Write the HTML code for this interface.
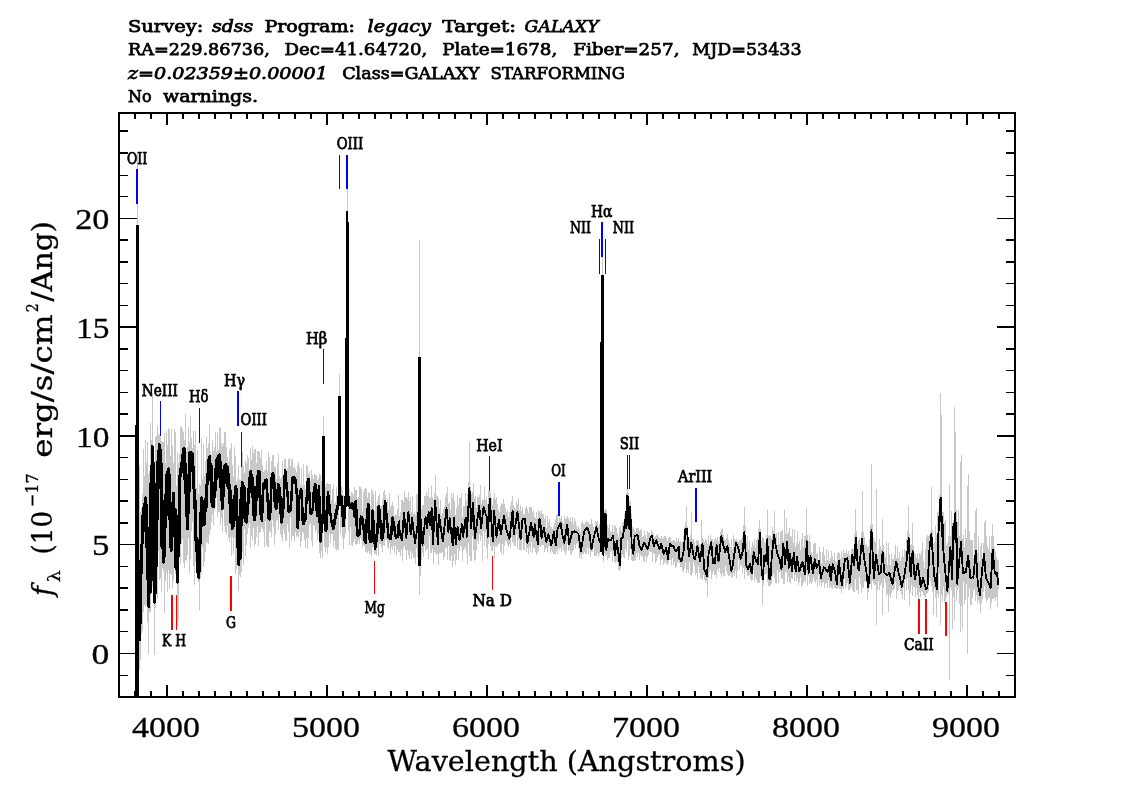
<!DOCTYPE html>
<html lang="en"><head><meta charset="utf-8"><title>SDSS spectrum plate 1678 fiber 257 MJD 53433</title>
<style>
html,body{margin:0;padding:0;background:#fff;}
body{width:1134px;height:810px;overflow:hidden;}
svg{display:block;}
text{font-family:"DejaVu Serif","Liberation Serif",serif;fill:#000;}
.t{font-size:17.2px;stroke:#000;stroke-width:0.75px;}
.ti{font-size:17.2px;font-style:italic;stroke:#000;stroke-width:0.75px;}
.lb{font-size:15.8px;stroke:#000;stroke-width:0.75px;}
.ax{font-size:29px;font-family:"Liberation Serif","DejaVu Serif",serif;stroke:#000;stroke-width:0.3px;}
.al{font-size:27px;stroke:#000;stroke-width:0.3px;}
</style></head><body>
<svg width="1134" height="810" viewBox="0 0 1134 810">
<rect x="0" y="0" width="1134" height="810" fill="#fff"/>
<g shape-rendering="crispEdges">
<path d="M138.5 506.6V645.0M139.5 465.7V670.0M140.5 512.2V660.0M141.5 507.7V633.6M142.5 494.2V631.4M143.5 448.6V612.2M144.5 475.8V604.5M145.5 440.0V606.8M146.5 463.2V604.8M147.5 442.0V622.3M148.5 474.0V654.0M149.5 470.8V612.4M150.5 423.0V612.3M151.5 439.8V593.3M152.5 393.0V586.5M153.5 448.4V589.7M154.5 468.6V655.0M155.5 436.6V608.1M156.5 436.1V575.8M157.5 426.0V598.5M158.5 433.8V551.0M159.5 434.6V580.4M160.5 436.8V577.8M161.5 441.4V591.5M162.5 441.7V568.2M163.5 442.2V571.4M164.5 433.4V613.0M165.5 463.0V581.0M166.5 430.6V573.4M167.5 444.6V591.9M168.5 428.0V570.2M169.5 429.8V588.9M170.5 456.0V574.2M171.5 429.4V574.5M172.5 446.0V588.2M173.5 462.8V581.1M174.5 428.6V566.2M175.5 432.3V573.5M176.5 485.6V581.1M177.5 451.8V626.0M178.5 462.7V620.0M179.5 453.5V556.0M180.5 426.0V563.5M181.5 427.0V543.5M182.5 428.7V538.8M183.5 431.7V562.5M184.5 439.8V567.9M185.5 414.0V559.6M186.5 450.5V560.9M187.5 446.5V554.9M188.5 427.4V537.8M189.5 442.1V573.0M190.5 416.0V559.3M191.5 437.8V531.4M192.5 448.4V522.4M193.5 431.0V565.7M194.5 445.1V585.2M195.5 430.6V562.4M196.5 487.5V573.0M197.5 450.3V578.4M198.5 494.4V581.8M199.5 484.2V610.0M200.5 485.1V578.3M201.5 437.5V573.6M202.5 478.5V547.0M203.5 443.5V567.2M204.5 476.3V562.4M205.5 461.3V552.4M206.5 437.1V542.1M207.5 447.9V543.3M208.5 442.7V543.7M209.5 424.0V534.7M210.5 450.6V530.4M211.5 454.8V522.3M212.5 439.6V513.9M213.5 451.2V525.9M214.5 447.4V509.6M215.5 432.4V507.2M216.5 451.3V496.7M217.5 432.6V516.6M218.5 449.5V512.3M219.5 428.0V512.3M220.5 427.0V525.4M221.5 442.6V518.0M222.5 446.2V532.0M223.5 443.4V509.5M224.5 431.9V526.4M225.5 432.0V532.0M226.5 447.1V534.1M227.5 457.1V526.0M228.5 461.7V537.9M229.5 450.1V541.8M230.5 447.9V537.1M231.5 443.1V556.0M232.5 465.4V537.0M233.5 476.4V554.3M234.5 446.7V537.9M235.5 455.6V574.0M236.5 481.5V568.5M237.5 478.8V558.2M238.5 466.4V591.0M239.5 479.7V575.2M240.5 479.6V576.5M241.5 461.9V572.0M242.5 452.4V552.3M243.5 465.9V564.7M244.5 472.9V528.9M245.5 459.6V555.8M246.5 462.9V544.5M247.5 454.8V533.9M248.5 458.0V528.1M249.5 469.2V522.7M250.5 448.3V548.0M251.5 460.3V536.4M252.5 446.0V540.1M253.5 453.3V527.7M254.5 448.7V546.1M255.5 448.9V544.1M256.5 463.4V536.5M257.5 451.1V526.3M258.5 451.4V546.3M259.5 451.5V533.0M260.5 458.2V531.8M261.5 450.2V526.7M262.5 465.0V529.2M263.5 472.4V531.9M264.5 471.1V546.5M265.5 469.3V521.3M266.5 460.5V544.6M267.5 471.0V546.6M268.5 451.8V546.6M269.5 456.9V531.2M270.5 472.3V531.9M271.5 461.0V536.5M272.5 454.5V519.5M273.5 454.6V527.4M274.5 467.4V544.5M275.5 467.0V534.6M276.5 479.1V521.1M277.5 462.8V519.9M278.5 454.0V530.0M279.5 475.8V517.1M280.5 479.1V533.8M281.5 476.9V537.0M282.5 460.5V540.9M283.5 482.5V529.0M284.5 458.6V533.6M285.5 458.5V541.4M286.5 469.8V541.3M287.5 468.0V524.0M288.5 459.3V531.9M289.5 458.2V547.8M290.5 465.9V517.2M291.5 459.0V540.8M292.5 459.4V535.9M293.5 467.5V536.4M294.5 466.4V541.5M295.5 469.3V532.2M296.5 471.9V536.5M297.5 465.0V535.7M298.5 461.7V537.1M299.5 466.8V532.2M300.5 485.0V547.0M301.5 468.4V540.9M302.5 486.1V531.8M303.5 463.6V532.6M304.5 484.5V539.7M305.5 488.8V547.8M306.5 465.4V537.6M307.5 466.1V549.0M308.5 474.2V537.6M309.5 471.0V525.0M310.5 480.6V523.4M311.5 469.9V541.3M312.5 475.0V546.9M313.5 478.8V525.0M314.5 474.3V525.9M315.5 474.8V532.4M316.5 475.2V530.3M317.5 480.2V540.2M318.5 478.4V534.4M319.5 474.4V553.4M320.5 475.0V557.5M321.5 480.6V550.5M322.5 476.6V557.9M324.5 489.6V547.0M325.5 486.6V551.6M326.5 483.9V547.5M327.5 482.7V553.6M328.5 484.0V546.7M329.5 483.5V533.9M330.5 484.3V542.7M331.5 500.1V533.9M332.5 488.5V534.3M333.5 485.4V547.4M334.5 503.6V540.5M335.5 501.8V549.4M336.5 487.0V550.7M337.5 496.6V548.7M338.5 489.6V550.2M340.5 489.1V534.3M341.5 486.1V527.1M342.5 490.1V537.5M343.5 495.2V548.8M344.5 495.8V537.9M345.5 493.2V534.2M348.5 487.2V531.0M349.5 488.8V545.3M350.5 495.8V526.7M351.5 492.2V544.9M352.5 492.9V546.4M353.5 495.4V541.7M354.5 487.3V539.4M355.5 490.0V544.4M356.5 490.0V544.5M357.5 499.0V544.0M358.5 496.8V539.8M359.5 486.4V543.6M360.5 486.6V538.3M361.5 488.6V540.4M362.5 510.7V548.3M363.5 492.1V544.8M364.5 488.8V545.6M365.5 487.5V552.1M366.5 489.3V551.5M367.5 497.6V553.1M368.5 492.4V551.4M369.5 492.5V553.8M370.5 506.2V553.4M371.5 488.6V556.4M372.5 490.5V547.9M373.5 494.2V547.0M374.5 510.9V554.0M375.5 491.1V554.1M376.5 505.8V555.0M377.5 501.0V547.2M378.5 495.6V556.0M379.5 494.4V544.3M380.5 505.8V543.8M381.5 506.3V546.8M382.5 499.5V551.5M383.5 492.0V545.3M384.5 489.5V546.2M385.5 494.5V539.9M386.5 502.0V539.8M387.5 499.3V546.7M388.5 509.8V548.9M389.5 493.1V543.2M390.5 506.7V554.2M391.5 504.5V546.9M392.5 501.9V550.4M393.5 505.5V546.3M394.5 515.7V552.8M395.5 513.6V546.2M396.5 514.6V555.3M397.5 509.3V549.2M398.5 494.8V551.8M399.5 515.6V552.2M400.5 511.8V556.1M401.5 499.5V550.1M402.5 499.5V561.0M403.5 501.6V548.3M404.5 491.0V545.8M405.5 497.2V550.2M406.5 497.3V560.0M407.5 499.3V549.8M408.5 492.0V554.9M409.5 500.8V558.8M410.5 497.0V550.6M411.5 511.8V559.1M412.5 496.0V553.4M413.5 513.7V558.2M414.5 511.5V558.3M415.5 514.5V564.0M416.5 494.0V548.4M417.5 493.5V557.3M420.5 506.6V575.7M421.5 509.0V560.0M422.5 505.2V553.1M423.5 504.7V557.1M424.5 496.2V545.5M425.5 496.1V550.8M426.5 492.2V550.0M427.5 495.6V549.3M428.5 488.0V558.7M429.5 497.5V535.9M430.5 496.5V553.2M431.5 486.0V553.1M432.5 497.1V548.5M433.5 498.7V564.0M434.5 492.8V551.6M435.5 475.0V552.7M436.5 494.6V555.2M437.5 495.9V553.8M438.5 498.4V565.0M439.5 509.3V552.9M440.5 499.6V553.3M441.5 515.1V552.9M442.5 513.3V552.3M443.5 509.0V559.5M444.5 505.8V556.8M445.5 496.8V548.4M446.5 493.0V548.2M447.5 487.0V559.6M448.5 504.0V545.8M449.5 501.6V559.7M450.5 509.9V561.0M451.5 493.1V555.6M452.5 497.7V567.0M453.5 493.2V561.0M454.5 501.1V554.4M455.5 514.8V565.0M456.5 508.1V560.1M457.5 494.9V547.8M458.5 504.8V559.9M459.5 498.4V551.3M460.5 498.2V546.1M461.5 493.4V547.3M462.5 517.2V561.0M463.5 505.9V549.7M464.5 506.0V548.8M465.5 493.4V547.1M466.5 500.6V553.2M467.5 493.5V564.0M468.5 482.3V542.7M469.5 442.0V556.0M470.5 486.6V561.0M471.5 493.6V561.0M472.5 492.3V535.7M473.5 483.0V550.3M474.5 498.0V561.0M475.5 496.4V559.5M476.5 508.4V550.4M477.5 496.7V541.3M478.5 497.2V543.7M479.5 494.7V534.1M480.5 485.0V541.0M481.5 503.5V535.8M482.5 499.1V561.0M483.5 500.0V531.1M484.5 487.0V545.2M485.5 500.4V532.0M486.5 497.0V548.3M487.5 504.4V559.3M488.5 491.3V544.2M489.5 492.6V537.7M490.5 491.7V545.5M491.5 498.1V551.2M492.5 504.7V551.3M493.5 497.7V545.6M494.5 493.0V557.8M495.5 499.0V546.0M496.5 497.4V546.2M497.5 504.2V547.0M498.5 510.2V543.6M499.5 511.6V543.2M500.5 505.5V552.2M501.5 503.3V554.2M502.5 503.7V543.5M503.5 498.9V554.5M504.5 504.3V545.9M505.5 507.5V541.3M506.5 512.0V541.4M507.5 509.8V545.1M508.5 516.8V547.1M509.5 511.6V544.4M510.5 506.4V546.7M511.5 500.8V537.0M512.5 496.0V542.0M513.5 505.3V543.4M514.5 507.0V546.1M515.5 509.1V546.2M516.5 500.8V534.1M517.5 503.7V548.7M518.5 498.0V539.7M519.5 510.0V550.0M520.5 505.1V550.2M521.5 510.8V550.1M522.5 506.8V538.2M523.5 513.6V549.9M524.5 514.5V550.1M525.5 508.2V540.8M526.5 505.8V551.5M527.5 508.7V548.2M528.5 512.5V554.4M529.5 507.4V546.8M530.5 506.7V552.1M531.5 506.9V542.4M532.5 512.0V552.5M533.5 510.3V547.6M534.5 517.0V547.7M535.5 518.4V552.3M536.5 512.2V555.1M537.5 519.4V553.4M538.5 511.0V551.4M539.5 510.7V545.6M540.5 512.5V547.1M541.5 510.1V545.4M542.5 513.6V545.3M543.5 514.2V545.2M544.5 518.7V551.8M545.5 515.4V548.8M546.5 527.7V548.1M547.5 516.4V552.2M548.5 523.4V547.3M549.5 519.2V546.4M550.5 526.4V552.8M551.5 526.7V549.8M552.5 528.6V551.6M553.5 526.5V553.8M554.5 523.4V554.4M555.5 519.0V554.4M556.5 515.4V551.1M557.5 514.0V553.6M558.5 522.1V548.4M559.5 514.5V550.1M560.5 518.8V548.2M561.5 515.9V551.8M562.5 520.5V546.3M563.5 523.2V550.1M564.5 515.6V552.2M565.5 518.7V554.7M566.5 518.0V551.3M567.5 515.8V543.9M568.5 518.2V551.2M569.5 521.0V549.5M570.5 516.5V554.0M571.5 521.6V554.9M572.5 517.0V550.5M573.5 524.0V550.3M574.5 518.2V544.6M575.5 521.3V548.7M576.5 524.6V544.1M577.5 528.9V543.0M578.5 526.0V549.4M579.5 529.4V557.5M580.5 532.0V554.8M581.5 522.5V558.8M582.5 520.8V554.4M583.5 523.9V553.7M584.5 524.1V552.0M585.5 522.0V553.5M586.5 520.5V553.5M587.5 521.7V548.4M588.5 521.5V553.7M589.5 523.9V547.3M590.5 523.5V556.5M591.5 518.8V552.1M592.5 523.5V552.3M593.5 526.9V547.1M594.5 529.5V556.1M595.5 521.2V556.2M596.5 521.7V556.4M597.5 521.0V553.2M598.5 526.2V556.9M599.5 524.3V554.1M600.5 520.7V549.4M601.5 522.1V552.1M603.5 507.6V561.7M604.5 510.3V552.5M605.5 509.4V556.4M606.5 510.3V555.0M607.5 525.4V560.3M608.5 527.5V558.0M609.5 524.1V558.4M610.5 530.9V552.2M611.5 532.0V551.1M612.5 524.7V561.7M613.5 532.2V553.6M614.5 525.1V562.1M615.5 526.0V562.5M616.5 527.7V560.8M617.5 532.5V562.1M618.5 537.3V570.2M619.5 527.8V570.7M620.5 525.8V569.0M621.5 530.8V557.5M622.5 522.7V554.7M623.5 522.0V556.6M624.5 513.6V558.0M625.5 514.2V549.1M626.5 492.9V551.5M627.5 489.7V539.6M628.5 493.1V560.1M629.5 501.8V555.5M630.5 500.0V549.4M631.5 512.9V560.3M632.5 527.3V560.6M633.5 527.5V560.6M634.5 530.2V561.3M635.5 532.1V560.4M636.5 527.8V553.1M637.5 527.9V557.3M638.5 528.4V552.6M639.5 531.3V560.4M640.5 530.4V554.5M641.5 528.9V556.6M642.5 536.7V555.7M643.5 536.1V561.2M644.5 530.5V562.0M645.5 534.6V555.8M646.5 537.9V561.6M647.5 531.2V556.8M648.5 532.5V554.5M649.5 531.6V550.6M650.5 534.5V552.1M651.5 530.4V552.0M652.5 532.0V562.4M653.5 533.8V552.5M654.5 537.2V553.8M655.5 536.1V562.9M656.5 534.9V561.4M657.5 534.2V556.5M658.5 536.2V555.4M659.5 538.3V554.3M660.5 538.4V564.7M661.5 536.3V559.8M662.5 538.7V559.1M663.5 536.9V565.3M664.5 535.9V562.6M665.5 536.1V560.5M666.5 538.3V564.3M667.5 540.6V564.6M668.5 538.0V563.1M669.5 537.2V559.9M670.5 537.1V560.1M671.5 540.7V565.2M672.5 540.9V558.2M673.5 540.1V565.4M674.5 540.4V561.8M675.5 541.6V567.9M676.5 538.0V566.6M677.5 541.2V562.5M678.5 538.4V560.5M679.5 541.9V562.8M680.5 541.1V566.8M681.5 541.6V567.1M682.5 541.6V570.5M683.5 536.3V571.9M684.5 526.9V569.4M685.5 522.3V563.4M686.5 506.0V573.3M687.5 526.0V570.2M688.5 536.9V573.1M689.5 538.9V561.8M690.5 535.3V575.2M691.5 512.0V575.7M692.5 539.4V573.3M693.5 538.9V561.6M694.5 541.8V566.2M695.5 546.2V574.7M696.5 539.9V573.4M697.5 539.7V578.6M698.5 540.8V566.2M699.5 545.3V572.8M700.5 544.1V579.1M701.5 520.0V577.5M702.5 537.6V579.7M703.5 540.1V575.3M704.5 542.4V579.5M705.5 538.9V582.7M706.5 540.4V581.4M707.5 543.5V597.0M708.5 536.2V578.2M709.5 543.9V572.2M710.5 535.2V569.9M711.5 538.6V578.5M712.5 538.8V573.5M713.5 542.1V571.3M714.5 538.7V575.3M715.5 538.3V575.4M716.5 539.9V577.9M717.5 537.0V569.1M718.5 540.8V572.3M719.5 536.9V567.9M720.5 531.6V573.8M721.5 529.7V577.2M722.5 529.2V573.4M723.5 534.5V575.7M724.5 538.9V575.5M725.5 539.9V565.9M726.5 537.6V571.3M727.5 534.3V573.7M728.5 540.0V575.5M729.5 542.9V575.5M730.5 546.8V574.1M731.5 538.9V577.0M732.5 549.3V577.5M733.5 535.2V573.3M734.5 538.7V576.2M735.5 540.1V571.1M736.5 538.5V577.6M737.5 540.5V570.5M738.5 541.5V560.1M739.5 540.2V570.0M740.5 539.6V565.0M741.5 539.0V566.1M742.5 535.2V573.8M743.5 524.5V568.4M744.5 507.0V578.8M745.5 525.9V569.8M746.5 542.6V572.0M747.5 535.7V575.7M748.5 550.4V576.4M749.5 541.0V574.5M750.5 554.1V579.2M751.5 546.7V580.9M752.5 541.8V580.0M753.5 546.1V569.8M754.5 539.1V581.6M755.5 548.3V578.0M756.5 539.5V580.0M757.5 538.4V583.2M758.5 528.6V582.6M759.5 520.0V582.9M760.5 529.1V577.2M761.5 541.2V580.0M762.5 536.9V605.0M763.5 537.9V584.7M764.5 541.5V575.1M765.5 542.6V573.8M766.5 535.2V574.2M767.5 510.0V582.2M768.5 535.6V585.5M769.5 534.8V586.2M770.5 536.2V585.9M771.5 537.9V584.4M772.5 527.0V576.9M773.5 530.7V573.7M774.5 511.0V577.9M775.5 535.0V583.1M776.5 532.9V583.1M777.5 545.1V569.7M778.5 531.6V583.4M779.5 543.8V571.7M780.5 532.0V572.1M781.5 530.7V579.4M782.5 530.4V577.6M783.5 540.7V583.8M784.5 510.0V583.8M785.5 534.1V572.3M786.5 518.0V571.8M787.5 534.3V581.9M788.5 531.8V576.7M789.5 528.3V582.2M790.5 536.1V584.1M791.5 537.1V578.3M792.5 528.7V579.3M793.5 543.4V571.6M794.5 529.4V581.0M795.5 547.1V575.0M796.5 542.5V581.4M797.5 530.5V578.1M798.5 543.8V585.4M799.5 541.4V581.6M800.5 550.0V577.2M801.5 538.5V585.5M802.5 533.4V585.6M803.5 547.1V583.3M804.5 536.1V580.0M805.5 536.0V581.9M806.5 508.0V573.1M807.5 534.8V585.9M808.5 540.6V575.9M809.5 534.6V583.6M810.5 541.8V581.9M811.5 551.9V583.9M812.5 554.7V582.4M813.5 544.2V577.4M814.5 543.4V580.6M815.5 542.6V582.9M816.5 553.8V579.9M817.5 552.9V586.7M818.5 560.5V574.6M819.5 547.0V584.8M820.5 551.8V581.8M821.5 562.7V587.3M822.5 552.3V582.8M823.5 547.4V581.6M824.5 554.8V588.3M825.5 560.7V584.4M826.5 548.7V582.9M827.5 560.2V587.8M828.5 550.7V580.2M829.5 560.9V587.9M830.5 558.0V586.4M831.5 550.8V587.5M832.5 556.3V588.8M833.5 559.6V585.0M834.5 552.6V588.4M835.5 561.4V588.4M836.5 561.8V589.1M837.5 553.2V587.5M838.5 551.5V587.1M839.5 553.2V588.9M840.5 559.4V588.8M841.5 551.3V592.7M842.5 557.0V588.2M843.5 550.0V588.8M844.5 552.7V577.6M845.5 552.8V588.9M846.5 549.6V585.8M847.5 553.5V582.6M848.5 551.3V589.9M849.5 555.2V589.9M850.5 555.7V587.5M851.5 548.8V586.3M852.5 547.5V590.4M853.5 548.8V592.0M854.5 534.2V591.5M855.5 509.0V579.3M856.5 531.1V589.9M857.5 544.0V589.8M858.5 539.8V594.2M859.5 537.8V576.9M860.5 543.4V583.8M861.5 531.5V592.9M862.5 491.0V587.4M863.5 532.0V588.0M864.5 536.7V581.1M865.5 544.6V581.8M866.5 544.2V582.7M867.5 546.9V600.0M868.5 546.3V591.7M869.5 539.3V587.0M870.5 524.7V583.7M871.5 464.0V588.5M872.5 523.7V580.9M873.5 537.4V582.7M874.5 541.4V584.7M875.5 541.6V584.7M876.5 489.0V625.0M877.5 554.7V590.1M878.5 549.6V580.8M879.5 539.0V589.7M880.5 545.6V585.1M881.5 548.7V583.2M882.5 519.0V615.0M883.5 544.6V588.2M884.5 553.3V577.7M885.5 556.6V582.7M886.5 541.7V595.8M887.5 564.5V594.0M888.5 542.9V612.0M889.5 554.2V594.6M890.5 565.4V597.5M891.5 554.3V593.0M892.5 559.3V589.7M893.5 558.9V590.0M894.5 553.5V588.9M895.5 544.5V581.6M896.5 558.4V598.5M897.5 546.9V591.4M898.5 557.5V589.6M899.5 551.7V585.8M900.5 560.7V590.5M901.5 557.2V594.0M902.5 549.9V598.5M903.5 556.7V588.2M904.5 548.9V599.8M905.5 550.9V579.6M906.5 539.0V590.7M907.5 531.2V577.7M908.5 506.0V589.6M909.5 533.5V606.0M910.5 544.6V592.7M911.5 543.9V584.6M912.5 523.0V596.0M913.5 546.2V586.5M914.5 552.5V586.6M915.5 553.8V596.5M916.5 557.9V587.8M917.5 552.6V595.1M918.5 558.7V598.9M919.5 552.9V592.0M920.5 554.8V596.9M921.5 551.4V590.6M922.5 541.8V591.8M923.5 561.2V594.7M924.5 568.3V595.9M925.5 549.0V597.9M926.5 536.8V594.0M927.5 535.0V593.0M928.5 535.7V590.9M929.5 534.8V577.6M930.5 531.0V580.9M931.5 487.0V586.2M932.5 530.2V591.9M933.5 544.2V615.0M934.5 541.7V589.4M935.5 526.1V597.9M936.5 534.7V617.0M937.5 512.2V593.8M938.5 511.3V598.1M939.5 494.9V573.8M940.5 393.0V625.0M941.5 415.0V594.6M942.5 512.3V601.6M943.5 511.9V587.3M944.5 521.9V602.5M945.5 520.0V601.4M946.5 545.6V596.7M947.5 543.3V593.8M948.5 535.8V593.8M949.5 484.0V680.0M950.5 536.4V586.5M951.5 511.0V589.8M952.5 522.7V629.0M953.5 520.2V596.5M954.5 407.0V621.0M955.5 432.0V587.0M956.5 510.1V600.5M957.5 521.8V590.3M958.5 510.0V587.2M959.5 536.2V604.2M960.5 462.0V632.0M961.5 455.0V606.0M962.5 538.5V629.0M963.5 535.3V582.2M964.5 546.8V603.9M965.5 529.0V600.3M966.5 537.5V584.4M967.5 486.0V654.0M968.5 474.0V597.4M969.5 531.0V588.3M970.5 539.7V604.9M971.5 539.6V604.7M972.5 539.8V597.5M973.5 557.5V590.3M974.5 533.1V588.9M975.5 511.0V600.9M976.5 508.0V595.2M977.5 553.2V603.9M978.5 535.7V600.4M979.5 560.8V602.9M980.5 545.9V613.0M981.5 542.6V603.7M982.5 557.0V598.8M983.5 542.7V592.2M984.5 522.0V586.3M985.5 520.0V597.9M986.5 535.7V602.2M987.5 545.6V600.0M988.5 548.7V597.7M989.5 535.6V597.9M990.5 552.1V609.0M991.5 535.6V603.1M992.5 524.0V599.4M993.5 536.0V598.8M994.5 547.2V598.2M995.5 550.7V600.9M996.5 557.4V596.6M997.5 559.8V607.0M998.5 560.4V588.8" stroke="#c8c8c8" stroke-width="1" fill="none"/>
<rect x="137" y="152" width="1" height="73" fill="#c8c8c8"/>
<rect x="419" y="240" width="1" height="117" fill="#c8c8c8"/>
<rect x="347" y="189" width="1" height="22" fill="#c8c8c8"/>
<rect x="602" y="257" width="1" height="18" fill="#c8c8c8"/>
<rect x="339" y="374" width="1" height="23" fill="#c8c8c8"/>
<rect x="323" y="416" width="1" height="21" fill="#c8c8c8"/>
<rect x="419" y="566" width="1" height="29" fill="#c8c8c8"/>
<rect x="627" y="489" width="1" height="8" fill="#c8c8c8"/>
<rect x="489" y="490" width="1" height="9" fill="#c8c8c8"/>
<clipPath id="cp"><rect x="120" y="114" width="894" height="582"/></clipPath>
<g clip-path="url(#cp)" stroke="#000" fill="none" stroke-linejoin="round">
<path d="M137.0,690.0 137.5,637.5 138.0,560.0 138.4,570.0 138.8,608.3 139.2,610.7 139.6,640.0 140.1,596.6 140.5,623.0 141.3,547.4 141.7,571.7 142.2,528.9 143.0,514.8 143.5,523.9 144.1,504.2 144.6,514.4 145.1,515.9 145.6,497.8 146.1,539.2 146.5,505.6 147.4,578.6 147.9,554.4 148.4,576.7 148.9,606.7 149.6,528.1 150.1,593.1 150.8,483.8 151.3,524.8 151.7,497.7 152.2,446.7 152.9,530.5 153.3,462.5 153.9,580.7 154.3,534.2 154.9,602.2 155.8,538.0 156.2,566.2 156.9,483.1 157.3,519.4 157.8,468.9 158.2,453.6 158.7,471.8 159.1,444.5 159.6,458.2 160.0,446.7 160.6,488.0 161.0,461.5 161.5,497.3 162.0,547.4 162.5,500.7 163.3,562.2 163.9,529.4 164.4,556.3 165.0,529.7 165.5,494.7 166.0,517.4 166.7,484.4 167.1,471.9 167.6,482.1 168.0,471.2 168.4,477.3 168.9,468.9 169.4,489.6 169.9,520.0 170.2,502.3 170.6,533.3 171.1,551.1 171.8,522.6 172.1,537.1 172.5,518.8 172.9,511.2 173.3,493.3 173.7,502.9 174.1,526.2 174.5,536.2 175.1,508.9 176.0,568.3 176.6,537.5 177.0,545.6 177.4,570.8 177.8,582.2 178.2,537.2 178.7,515.7 179.0,545.1 179.5,519.5 180.0,475.6 180.4,469.6 180.9,475.3 181.3,463.5 181.8,471.5 182.2,460.5 182.7,470.4 183.1,449.3 183.6,462.9 184.0,448.4 184.4,452.2 184.9,475.9 185.4,493.2 185.8,464.5 186.4,515.9 186.9,489.6 187.3,506.0 187.8,528.9 188.6,474.7 188.8,506.4 189.6,453.3 190.0,460.1 190.5,452.2 191.0,467.0 191.4,456.3 191.9,464.3 192.4,453.7 192.9,471.5 193.3,466.7 193.9,483.4 194.4,507.4 194.8,491.7 195.6,524.4 196.1,544.1 196.6,550.7 197.0,538.4 197.6,571.5 198.1,550.7 198.9,577.8 199.4,545.3 199.7,571.1 200.4,513.0 200.7,542.4 201.6,497.8 202.0,499.5 202.5,513.1 203.0,501.3 203.5,524.5 204.0,512.3 204.4,524.4 204.8,520.6 205.2,502.5 205.6,499.4 205.9,510.9 206.7,491.1 207.5,473.9 207.9,483.5 208.6,459.9 209.0,471.9 209.6,456.7 210.0,472.2 210.5,480.2 211.0,464.5 211.4,469.8 211.8,498.2 212.1,505.3 212.7,483.5 213.3,506.7 213.8,487.1 214.3,484.2 214.6,496.4 215.1,489.8 215.6,473.3 216.0,467.8 216.4,479.3 216.9,459.4 217.3,476.9 217.8,458.1 218.2,474.0 218.7,456.0 219.1,466.9 219.6,455.0 220.0,460.0 220.7,487.2 221.0,468.8 221.4,487.3 221.8,492.8 222.2,508.9 222.7,496.2 223.3,478.2 223.6,496.1 224.4,468.9 224.9,465.4 225.3,475.6 225.8,464.5 226.2,483.0 226.7,468.6 227.1,485.1 227.6,466.8 228.0,487.4 228.4,473.7 228.9,480.0 229.4,496.1 229.8,503.8 230.3,490.6 230.9,522.3 231.4,504.4 232.2,528.9 232.7,512.8 233.2,526.1 233.7,507.2 234.1,496.7 234.6,506.4 235.1,500.5 235.6,486.7 236.1,519.8 236.6,489.3 237.0,513.9 237.5,546.7 237.9,526.3 238.4,552.6 238.9,564.4 239.6,524.0 240.1,558.4 240.8,499.6 241.2,525.2 241.7,494.5 242.2,482.2 242.8,501.4 243.3,503.0 243.9,486.1 244.4,491.5 244.8,516.5 245.2,520.6 245.9,503.9 246.7,522.2 247.5,502.7 247.8,512.8 248.3,492.4 248.9,488.9 249.4,489.8 249.9,477.0 250.3,491.5 250.8,471.6 251.3,485.9 251.8,475.6 252.3,497.2 252.7,478.5 253.2,490.8 253.7,515.2 254.0,504.6 254.4,520.0 255.0,504.9 255.5,515.2 256.4,487.3 256.9,500.1 257.3,493.9 257.8,480.0 258.2,471.5 258.7,484.8 259.1,471.3 259.5,479.7 260.0,495.1 260.5,500.5 260.9,514.3 261.5,519.5" stroke-width="3"/>
<path d="M261.5,519.5 262.0,520.4 262.5,504.7 262.9,499.7 263.4,484.6 263.8,482.9 264.3,485.5 264.7,482.5 265.2,487.4 265.6,480.1 266.1,484.7 266.5,479.5 266.9,482.8 267.4,498.0 267.9,502.4 268.3,516.7 268.8,519.2 269.2,515.0 269.6,519.5 270.0,518.6 270.5,505.0 271.0,497.4 271.4,480.9 271.9,476.7 272.3,481.0 272.8,473.4 273.3,478.3 273.7,474.8 274.2,481.8 274.7,499.6 275.1,506.9 275.6,505.5 276.0,509.2 276.4,505.9 276.8,508.1 277.3,501.8 277.8,489.3 278.2,484.0 278.6,487.8 279.1,485.8 279.5,491.4 279.9,492.0 280.4,498.4 280.8,514.3 281.3,522.3 281.8,516.3 282.2,517.9 282.7,507.8 283.1,510.2 283.6,504.4 284.1,489.3 284.5,484.3 285.0,470.4 285.5,472.2 285.9,481.6 286.4,482.3 286.9,490.0 287.3,492.0 287.8,497.1 288.2,506.2 288.7,511.8 289.2,507.2 289.6,510.8 290.1,505.7 290.6,510.0 291.0,505.6 291.5,494.1 291.9,489.9 292.4,479.1 292.9,476.9 293.3,482.5 293.7,476.9 294.2,481.9 294.6,478.3 295.1,483.1 295.5,479.9 296.0,482.2 296.4,492.5 296.9,493.6 297.4,503.1 297.8,527.8 298.3,519.8 298.7,503.2 299.2,495.7 299.7,498.5 300.1,491.4 300.6,495.6 301.0,489.3 301.5,490.8 302.0,504.0 302.4,509.1 302.9,522.9 303.4,524.0 303.9,517.8 304.4,521.6 304.9,514.1 305.3,519.8 305.8,515.5 306.3,501.2 306.8,497.9 307.2,483.4 307.7,481.5 308.1,485.8 308.5,479.1 308.9,482.8 309.4,496.4 309.9,501.5 310.3,513.0 310.8,513.9 311.2,509.7 311.7,512.8 312.2,509.3 312.6,510.6 313.1,505.2 313.6,494.4 314.0,490.8 314.4,492.8 314.9,484.3 315.3,488.1 315.7,485.2 316.2,492.2 316.6,508.4 317.1,515.5 317.6,504.4 318.0,496.8 318.5,495.7 319.0,485.9 319.8,522.5 320.0,507.7 320.7,541.4 321.2,532.1 321.6,532.4 322.1,521.5 322.6,520.0 323.3,500.0 323.7,500.0 324.4,520.0 324.9,524.4 325.4,522.0 325.8,530.7 326.3,529.0 326.8,510.4 327.0,521.6 327.5,503.3 328.0,492.0 328.4,497.3 328.8,497.4 329.2,506.0 329.7,505.3 330.1,512.2 330.5,515.0 330.9,516.1 331.3,521.6 331.8,521.3 332.2,526.0 332.6,525.2 333.0,529.0 333.4,527.7 333.8,523.8 334.2,524.8 334.7,519.4 335.1,519.7 335.5,517.0 335.9,512.5 336.3,515.1 336.8,508.6 337.2,509.8 337.6,505.9 338.0,505.0 339.3,490.0 339.7,490.0 340.4,500.0 340.8,499.9 341.3,496.3 341.7,497.6 342.4,515.5 342.7,505.8 343.6,526.0 344.0,521.9 344.5,514.6 344.9,511.7 345.3,505.0 346.8,480.0 347.2,480.0 348.5,500.0 349.0,499.7 349.4,506.2 349.9,504.9 350.4,508.0 350.9,508.2 351.4,504.2 351.8,507.5 352.3,503.2 352.8,504.4 353.3,508.3 353.8,509.8 354.2,515.5 354.7,516.7 355.1,510.1 355.5,507.2 355.8,501.3 356.3,510.2 356.8,525.7 357.2,535.2 357.7,532.9 358.2,535.5 358.6,532.3 359.1,535.0 359.5,534.0 360.0,526.0 360.5,524.0 360.9,516.7 361.4,516.9 361.9,521.4 362.3,518.8 362.8,523.8 363.2,524.1 363.7,528.6 364.2,536.4 364.6,540.2 365.2,540.3 365.7,542.7 366.2,534.0 366.6,522.8 367.1,514.3 367.6,509.7 368.2,503.8 368.6,514.5 369.1,528.4 369.6,539.0 370.0,538.4 370.4,542.2 370.8,539.6 371.3,541.4 371.7,532.7 372.2,519.9 372.7,510.6 373.2,519.9 373.7,526.6 374.2,533.4 374.7,542.5 375.1,548.8 375.6,544.7 376.1,543.9 376.5,536.8 377.0,536.0 377.4,531.5 377.9,521.6 378.4,517.0 378.8,506.2 379.3,509.9 379.7,517.3 380.1,518.2 380.5,524.1 381.0,531.0 381.5,532.6 381.9,540.2 382.3,538.5 382.8,532.4 383.2,532.8 383.6,527.8 384.1,516.5 384.5,511.4 385.0,501.3 385.5,503.7 385.9,512.4 386.4,513.2 386.9,521.0 387.3,524.1 387.8,527.4 388.2,533.9 388.7,537.7 389.2,536.8 389.6,538.5 390.1,535.7 390.6,538.8 391.0,537.7 391.5,530.2 391.9,525.3 392.4,518.0 392.8,517.6 393.3,523.9 393.7,521.6 394.1,525.4 394.6,530.2 395.0,531.7 395.5,536.5 396.0,537.7 396.4,535.0 396.9,537.4 397.3,535.0 397.8,536.5 398.3,532.7 398.7,524.2 399.2,521.7 399.0,529.3 399.4,533.3 399.9,530.8 400.3,534.2 400.8,535.2 401.2,537.4 401.6,538.6" stroke-width="2.6"/>
<path d="M401.2,537.4 401.6,538.6 402.1,540.4 403.0,526.6 403.9,512.6 405.2,525.0 406.4,537.9 407.3,525.2 408.3,512.0 409.5,522.8 410.7,534.2 411.3,526.0 412.0,517.5 413.0,525.7 414.0,534.5 415.0,542.8 416.2,535.2 417.3,528.0 419.3,500.0 419.7,500.0 420.0,564.0 420.5,542.1 421.0,520.0 421.7,532.4 422.5,545.3 423.5,536.0 424.5,526.3 425.5,516.9 426.3,522.7 427.1,528.0 427.9,519.8 428.6,512.0 429.4,519.1 430.1,525.6 430.9,516.6 431.7,508.3 432.3,526.5 433.0,544.1 434.1,522.1 435.2,500.9 436.1,515.6 437.0,529.3 437.9,544.1 438.5,529.8 439.1,515.1 440.0,521.5 441.0,528.8 441.9,534.8 442.8,541.6 443.8,533.6 444.7,524.6 445.6,516.7 446.5,508.3 447.5,519.6 448.4,531.7 449.0,525.4 449.6,518.1 450.6,526.9 451.7,536.6 452.7,545.3 453.3,531.3 453.9,518.1 454.9,531.3 455.8,544.1 456.7,535.1 457.6,526.8 458.6,533.9 459.5,540.4 460.7,532.0 462.0,524.3 462.6,530.9 463.2,536.7 464.4,526.7 465.7,517.5 466.3,527.4 466.9,536.7 467.6,521.4 468.4,507.0 468.9,497.8 469.4,487.9 469.9,497.1 470.4,507.0 471.2,528.0 472.0,515.6 472.8,502.7 473.9,520.2 474.9,537.9 476.0,530.0 477.1,521.6 478.2,514.0 479.2,505.8 480.2,516.5 481.1,528.0 482.3,517.8 483.6,507.0 484.6,510.0 485.6,513.9 486.7,516.9 487.3,526.4 487.9,536.7 488.8,517.8 489.7,498.4 490.8,512.7 491.8,527.6 492.8,541.6 493.4,525.8 494.1,510.7 495.3,524.0 496.5,536.7 497.8,527.7 499.0,519.4 499.9,527.1 500.9,534.2 501.9,527.9 502.9,522.2 503.9,515.7 505.2,522.3 506.4,529.3 507.4,532.7 508.5,535.6 509.5,539.1 510.5,530.0 511.6,520.0 512.6,510.7 513.2,522.8 513.8,534.2 514.7,528.2 515.7,523.4 516.6,517.3 517.5,512.0 518.5,521.3 519.6,529.7 520.6,539.1 521.5,529.6 522.5,519.4 523.7,518.8 524.9,518.8 526.2,531.1 527.4,542.8 528.3,537.8 529.2,533.1 530.2,527.8 531.1,523.1 532.3,530.2 533.6,536.7 534.2,530.3 534.8,524.3 535.8,531.2 536.9,537.4 537.9,544.1 538.4,531.9 539.0,519.4 539.6,519.2 540.2,519.4 540.9,528.9 541.5,537.9 542.7,532.7 543.9,528.0 545.2,535.1 546.4,541.6 547.3,537.7 548.3,534.2 549.3,538.2 550.3,541.4 551.3,545.3 552.6,538.8 553.8,531.7 554.7,538.4 555.7,545.3 556.6,537.7 557.5,529.3 558.5,527.0 559.6,525.5 560.6,523.1 561.5,528.9 562.5,535.4 563.4,539.2 564.3,542.8 565.3,536.4 566.2,530.8 567.1,524.3 568.2,533.8 569.2,544.1 570.3,540.2 571.3,535.7 572.3,531.7 573.3,531.9 574.2,531.3 575.1,531.9 576.0,531.7 577.3,532.7 578.5,534.2 579.7,543.0 581.0,551.5 582.0,544.6 583.0,538.7 584.1,531.7 585.1,530.1 586.1,529.2 587.1,527.4 588.4,530.5 589.6,534.2 590.5,542.0 591.5,549.0 592.7,542.5 593.9,536.7 595.2,532.2 596.4,527.4 597.6,532.9 598.9,539.1 599.8,541.3 600.7,542.9 601.6,545.0 602.0,500.0 602.4,500.0 603.3,555.0 604.0,534.6 604.6,514.0 605.1,513.8 605.6,514.0 606.3,550.0 607.2,544.8 608.1,539.1 609.4,539.6 610.6,540.4 611.8,538.0 613.1,535.4 614.0,545.1 614.9,555.2 615.9,548.0 616.8,540.4 617.8,548.2 618.8,556.9 619.9,565.1 620.5,551.8 621.1,539.1 622.0,538.3 623.0,536.7 624.2,527.9 625.4,519.4 626.2,528.0 626.5,507.0 626.9,495.9 627.4,521.9 627.9,496.5 628.4,525.6 628.9,509.5 629.4,529.3 630.1,507.0 630.6,534.2 631.0,519.4 631.6,544.1 632.5,549.4 633.4,554.0 634.1,544.4 634.7,535.4 635.7,535.8 636.7,535.2 637.8,535.4 638.7,541.2 639.6,546.5 640.5,548.2 641.5,550.2 642.7,546.9 643.9,542.8 644.9,544.1 645.8,546.1 646.7,547.2 647.6,549.0 648.9,544.3 650.1,539.1 651.0,537.2 652.0,535.4 652.9,541.1 653.8,546.5 655.0,543.1 656.3,540.4 657.3,543.4 658.3,545.8 659.4,549.0 660.3,546.7 661.2,544.1 662.5,548.8 663.7,554.0 664.9,551.1 666.2,547.8 667.1,553.2 668.0,558.9 668.9,551.7 669.9,544.1 670.8,544.3 671.7,545.7 672.6,545.6 673.6,546.5 674.8,549.3 676.0,551.5 677.0,549.5 678.0,548.6 679.0,546.5 679.0,557.8 680.2,559.5 681.5,561.5 682.7,555.6 683.9,549.2 684.7,539.2 685.4,529.4 686.2,529.4 687.0,528.8 688.0,542.5 688.9,556.6 690.1,549.8 691.3,542.4 692.6,549.9 693.8,557.8 694.4,558.6 695.0,559.1 696.3,552.5 697.5,546.1 698.8,554.2 700.0,561.5 701.2,552.5 702.5,543.6 703.4,556.5 704.3,569.0 705.5,572.5 706.8,576.4 707.7,565.4 708.6,554.1 709.5,549.9 710.4,546.7 711.3,542.4 712.1,552.4 713.0,562.8 713.9,563.3 714.8,563.4 715.7,554.0 716.7,544.9 717.6,553.4 718.5,561.5 719.5,552.9 720.4,544.8 721.3,536.2 722.4,540.7 723.4,545.5 724.4,549.0 725.3,552.3 726.3,548.9 727.4,546.1 728.5,553.4 729.6,560.3 730.5,565.4 731.5,570.8 732.4,566.5 733.3,561.5 734.2,555.0 735.1,549.4 736.0,543.0 737.1,545.4 738.3,548.0 739.5,553.7 740.7,559.1 741.7,555.3 742.6,551.7 743.5,542.0 744.4,531.9 745.4,548.5 746.3,565.2 747.2,567.2 748.1,569.0 749.1,566.3 750.0,564.0 750.9,568.9 751.8,573.3 752.8,562.5 753.7,552.3 754.9,557.2 756.2,561.5 757.1,562.6 758.0,564.0 758.9,548.8 759.9,533.1 760.8,552.1 761.7,571.4 762.3,575.3 763.0,578.8 763.6,566.9 764.2,555.4 765.1,558.6 766.0,561.5 766.7,550.3 767.3,539.3 768.2,559.4 769.1,578.8 769.7,579.0 770.4,579.4 771.0,569.5 771.6,559.1 772.8,546.5 774.1,534.4 775.0,540.9 775.9,546.7 776.8,550.9 777.8,555.4 778.7,557.4 779.6,559.1 780.5,563.9 781.5,569.0 782.4,556.5 783.3,543.6 784.2,553.6 785.2,564.0 786.1,553.2 787.0,541.8 788.0,554.4 788.9,567.7 789.5,561.2 790.1,554.1 791.0,562.7 792.0,571.4 792.9,562.3 793.8,552.9 794.7,561.9 795.7,571.4 796.3,564.3 796.9,556.6 798.1,563.8 799.4,571.4 800.4,568.4 801.4,564.7 802.5,561.5 803.7,567.9 804.9,573.9 805.9,557.2 806.8,541.2 807.7,557.2 808.6,572.7 809.6,564.0 810.5,556.0 811.7,565.0 813.0,573.3 813.9,566.0 814.8,559.1 815.7,563.5 816.7,567.7 817.8,565.7 819.0,564.0 819.0,560.5 819.9,569.4 820.9,577.8 821.9,574.0 822.9,571.1 823.9,567.3 824.9,568.1 825.8,569.7 826.7,570.2 827.6,571.6 828.6,568.7 829.5,565.4 830.1,572.6 830.7,580.2 831.7,572.3 832.6,564.2 833.8,567.6 835.0,571.6 836.0,577.9 836.9,584.0 837.8,571.9 838.8,560.5 839.8,569.0 840.8,576.8 841.8,585.2 842.9,576.7 843.9,567.7 844.9,559.3 846.2,558.9 847.4,558.0 848.6,570.1 849.9,582.7 851.1,568.9 852.3,554.9 853.3,560.1 854.2,565.4 855.0,551.8 855.8,537.7 856.8,551.9 857.9,566.7 858.5,568.7 859.1,570.4 860.1,559.7 861.0,549.6 862.0,538.9 863.0,548.4 864.1,558.0 865.3,565.6 866.5,572.8 867.3,580.0 868.1,587.7 868.9,581.2 869.6,574.1 870.5,551.9 871.5,530.2 872.7,554.3 873.9,577.8 875.0,566.1 876.0,554.9 877.0,561.5 877.9,567.5 878.9,574.1 879.8,573.8 880.7,572.8 881.7,562.1 882.6,551.9 883.5,562.5 884.4,572.8 885.7,574.0 886.9,575.3 888.1,574.3 889.4,572.8 890.4,576.3 891.4,580.4 892.5,584.0 893.4,578.2 894.3,573.1 895.2,567.0 896.2,561.7 897.4,567.4 898.6,572.8 899.3,575.2 900.0,577.8 900.9,582.4 901.8,586.7 902.7,582.5 903.6,579.0 904.4,574.8 905.6,567.3 906.7,560.0 907.6,549.2 908.6,537.8 909.6,556.8 910.7,576.3 911.6,563.9 912.6,551.1 913.7,565.0 914.8,579.3 915.8,574.4 916.8,568.7 917.8,563.7 918.8,571.7 919.8,578.9 920.7,586.7 921.9,582.4 923.0,577.8 924.0,581.2 924.9,585.4 925.9,588.9 926.7,588.2 927.4,588.1 928.5,567.6 929.6,546.7 930.5,540.2 931.4,534.1 932.3,547.8 933.2,561.0 934.1,574.8 935.1,580.0 936.0,584.4 937.0,589.6 937.6,566.8 938.2,543.7 938.8,517.0 939.4,530.4 940.0,502.2 940.7,497.8 941.3,511.1 941.9,536.3 942.4,517.0 943.3,549.6 944.1,558.8 945.0,568.5 945.9,577.8 946.7,584.1 947.4,591.1 948.4,576.4 949.4,561.4 950.4,546.7 951.3,563.1 952.1,579.3 953.0,543.7 953.5,524.4 954.1,539.3 954.7,514.4 955.4,513.3 956.0,542.2 956.4,524.4 957.2,583.7 958.2,572.0 959.3,560.7 960.1,551.4 961.0,541.5 962.0,557.1 963.0,573.3 964.0,573.1 964.9,572.0 965.9,571.9 967.0,564.0 968.1,555.6 969.3,566.5 970.4,577.8 971.4,577.9 972.3,577.4 973.3,577.8 974.2,568.9 975.0,559.4 975.9,550.4 976.8,567.3 977.8,583.7 978.9,589.1 980.0,594.8 981.1,582.0 982.2,568.9 983.2,561.3 984.1,554.1 985.0,566.1 985.9,577.8 986.9,579.7 987.9,581.9 988.9,583.7 989.8,585.7 990.7,588.1 991.6,569.2 992.6,549.6 993.7,561.4 994.8,573.3 995.9,573.7 997.0,573.3 997.8,579.1 998.5,585.2" stroke-width="1.85"/>
</g>
<rect x="136" y="225" width="3" height="472" fill="#000"/>
<rect x="135" y="425" width="1" height="272" fill="#000"/>
<rect x="322" y="436" width="3" height="86" fill="#000"/>
<rect x="338" y="396" width="3" height="110" fill="#000"/>
<rect x="346" y="211" width="2" height="295" fill="#000"/>
<rect x="348" y="222" width="1" height="284" fill="#000"/>
<rect x="345" y="338" width="1" height="168" fill="#000"/>
<rect x="418" y="357" width="3" height="209" fill="#000"/>
<rect x="601" y="275" width="3" height="277" fill="#000"/>
<rect x="600" y="342" width="1" height="210" fill="#000"/>
<rect x="136" y="169" width="2" height="35" fill="#0000ff"/>
<rect x="160" y="401" width="1" height="35" fill="#0000ff"/>
<rect x="199" y="408" width="1" height="35" fill="#0000ff"/>
<rect x="237" y="391" width="2" height="35" fill="#0000ff"/>
<rect x="241" y="432" width="1" height="35" fill="#0000ff"/>
<rect x="323" y="349" width="1" height="35" fill="#0000ff"/>
<rect x="339" y="155" width="1" height="34" fill="#0000ff"/>
<rect x="346" y="155" width="2" height="34" fill="#0000ff"/>
<rect x="489" y="456" width="1" height="34.5" fill="#0000ff"/>
<rect x="558" y="482" width="2" height="34" fill="#0000ff"/>
<rect x="599" y="239" width="1" height="35" fill="#0000ff"/>
<rect x="601" y="222" width="2" height="35" fill="#0000ff"/>
<rect x="605" y="239" width="1" height="35" fill="#0000ff"/>
<rect x="627" y="455" width="1" height="34" fill="#0000ff"/>
<rect x="629" y="455" width="1" height="34" fill="#0000ff"/>
<rect x="695" y="488" width="2" height="34" fill="#0000ff"/>
<rect x="171" y="595" width="2" height="35" fill="#ff0000"/>
<rect x="176" y="595" width="1" height="35" fill="#ff0000"/>
<rect x="230" y="576" width="2" height="35" fill="#ff0000"/>
<rect x="374" y="561" width="1" height="33" fill="#ff0000"/>
<rect x="492" y="555.5" width="1" height="34" fill="#ff0000"/>
<rect x="918" y="599" width="2" height="34.5" fill="#ff0000"/>
<rect x="925" y="599" width="2" height="34.5" fill="#ff0000"/>
<rect x="945" y="602" width="1.5" height="33.5" fill="#ff0000"/>
<rect x="118" y="112" width="898" height="2" fill="#000"/>
<rect x="118" y="696" width="898" height="2" fill="#000"/>
<rect x="118" y="112" width="2" height="586" fill="#000"/>
<rect x="1014" y="112" width="2" height="586" fill="#000"/>
<rect x="134" y="691" width="2" height="5" fill="#000"/>
<rect x="134" y="114" width="2" height="5" fill="#000"/>
<rect x="150" y="691" width="2" height="5" fill="#000"/>
<rect x="150" y="114" width="2" height="5" fill="#000"/>
<rect x="166" y="685" width="2" height="11" fill="#000"/>
<rect x="166" y="114" width="2" height="11" fill="#000"/>
<rect x="182" y="691" width="2" height="5" fill="#000"/>
<rect x="182" y="114" width="2" height="5" fill="#000"/>
<rect x="198" y="691" width="2" height="5" fill="#000"/>
<rect x="198" y="114" width="2" height="5" fill="#000"/>
<rect x="214" y="691" width="2" height="5" fill="#000"/>
<rect x="214" y="114" width="2" height="5" fill="#000"/>
<rect x="230" y="691" width="2" height="5" fill="#000"/>
<rect x="230" y="114" width="2" height="5" fill="#000"/>
<rect x="246" y="691" width="2" height="5" fill="#000"/>
<rect x="246" y="114" width="2" height="5" fill="#000"/>
<rect x="262" y="691" width="2" height="5" fill="#000"/>
<rect x="262" y="114" width="2" height="5" fill="#000"/>
<rect x="278" y="691" width="2" height="5" fill="#000"/>
<rect x="278" y="114" width="2" height="5" fill="#000"/>
<rect x="294" y="691" width="2" height="5" fill="#000"/>
<rect x="294" y="114" width="2" height="5" fill="#000"/>
<rect x="310" y="691" width="2" height="5" fill="#000"/>
<rect x="310" y="114" width="2" height="5" fill="#000"/>
<rect x="326" y="685" width="2" height="11" fill="#000"/>
<rect x="326" y="114" width="2" height="11" fill="#000"/>
<rect x="342" y="691" width="2" height="5" fill="#000"/>
<rect x="342" y="114" width="2" height="5" fill="#000"/>
<rect x="358" y="691" width="2" height="5" fill="#000"/>
<rect x="358" y="114" width="2" height="5" fill="#000"/>
<rect x="374" y="691" width="2" height="5" fill="#000"/>
<rect x="374" y="114" width="2" height="5" fill="#000"/>
<rect x="390" y="691" width="2" height="5" fill="#000"/>
<rect x="390" y="114" width="2" height="5" fill="#000"/>
<rect x="406" y="691" width="2" height="5" fill="#000"/>
<rect x="406" y="114" width="2" height="5" fill="#000"/>
<rect x="422" y="691" width="2" height="5" fill="#000"/>
<rect x="422" y="114" width="2" height="5" fill="#000"/>
<rect x="438" y="691" width="2" height="5" fill="#000"/>
<rect x="438" y="114" width="2" height="5" fill="#000"/>
<rect x="454" y="691" width="2" height="5" fill="#000"/>
<rect x="454" y="114" width="2" height="5" fill="#000"/>
<rect x="470" y="691" width="2" height="5" fill="#000"/>
<rect x="470" y="114" width="2" height="5" fill="#000"/>
<rect x="486" y="685" width="2" height="11" fill="#000"/>
<rect x="486" y="114" width="2" height="11" fill="#000"/>
<rect x="502" y="691" width="2" height="5" fill="#000"/>
<rect x="502" y="114" width="2" height="5" fill="#000"/>
<rect x="518" y="691" width="2" height="5" fill="#000"/>
<rect x="518" y="114" width="2" height="5" fill="#000"/>
<rect x="534" y="691" width="2" height="5" fill="#000"/>
<rect x="534" y="114" width="2" height="5" fill="#000"/>
<rect x="550" y="691" width="2" height="5" fill="#000"/>
<rect x="550" y="114" width="2" height="5" fill="#000"/>
<rect x="566" y="691" width="2" height="5" fill="#000"/>
<rect x="566" y="114" width="2" height="5" fill="#000"/>
<rect x="582" y="691" width="2" height="5" fill="#000"/>
<rect x="582" y="114" width="2" height="5" fill="#000"/>
<rect x="598" y="691" width="2" height="5" fill="#000"/>
<rect x="598" y="114" width="2" height="5" fill="#000"/>
<rect x="614" y="691" width="2" height="5" fill="#000"/>
<rect x="614" y="114" width="2" height="5" fill="#000"/>
<rect x="630" y="691" width="2" height="5" fill="#000"/>
<rect x="630" y="114" width="2" height="5" fill="#000"/>
<rect x="646" y="685" width="2" height="11" fill="#000"/>
<rect x="646" y="114" width="2" height="11" fill="#000"/>
<rect x="662" y="691" width="2" height="5" fill="#000"/>
<rect x="662" y="114" width="2" height="5" fill="#000"/>
<rect x="678" y="691" width="2" height="5" fill="#000"/>
<rect x="678" y="114" width="2" height="5" fill="#000"/>
<rect x="694" y="691" width="2" height="5" fill="#000"/>
<rect x="694" y="114" width="2" height="5" fill="#000"/>
<rect x="710" y="691" width="2" height="5" fill="#000"/>
<rect x="710" y="114" width="2" height="5" fill="#000"/>
<rect x="726" y="691" width="2" height="5" fill="#000"/>
<rect x="726" y="114" width="2" height="5" fill="#000"/>
<rect x="742" y="691" width="2" height="5" fill="#000"/>
<rect x="742" y="114" width="2" height="5" fill="#000"/>
<rect x="758" y="691" width="2" height="5" fill="#000"/>
<rect x="758" y="114" width="2" height="5" fill="#000"/>
<rect x="774" y="691" width="2" height="5" fill="#000"/>
<rect x="774" y="114" width="2" height="5" fill="#000"/>
<rect x="790" y="691" width="2" height="5" fill="#000"/>
<rect x="790" y="114" width="2" height="5" fill="#000"/>
<rect x="806" y="685" width="2" height="11" fill="#000"/>
<rect x="806" y="114" width="2" height="11" fill="#000"/>
<rect x="822" y="691" width="2" height="5" fill="#000"/>
<rect x="822" y="114" width="2" height="5" fill="#000"/>
<rect x="838" y="691" width="2" height="5" fill="#000"/>
<rect x="838" y="114" width="2" height="5" fill="#000"/>
<rect x="854" y="691" width="2" height="5" fill="#000"/>
<rect x="854" y="114" width="2" height="5" fill="#000"/>
<rect x="870" y="691" width="2" height="5" fill="#000"/>
<rect x="870" y="114" width="2" height="5" fill="#000"/>
<rect x="886" y="691" width="2" height="5" fill="#000"/>
<rect x="886" y="114" width="2" height="5" fill="#000"/>
<rect x="902" y="691" width="2" height="5" fill="#000"/>
<rect x="902" y="114" width="2" height="5" fill="#000"/>
<rect x="918" y="691" width="2" height="5" fill="#000"/>
<rect x="918" y="114" width="2" height="5" fill="#000"/>
<rect x="934" y="691" width="2" height="5" fill="#000"/>
<rect x="934" y="114" width="2" height="5" fill="#000"/>
<rect x="950" y="691" width="2" height="5" fill="#000"/>
<rect x="950" y="114" width="2" height="5" fill="#000"/>
<rect x="966" y="685" width="2" height="11" fill="#000"/>
<rect x="966" y="114" width="2" height="11" fill="#000"/>
<rect x="982" y="691" width="2" height="5" fill="#000"/>
<rect x="982" y="114" width="2" height="5" fill="#000"/>
<rect x="998" y="691" width="2" height="5" fill="#000"/>
<rect x="998" y="114" width="2" height="5" fill="#000"/>
<rect x="120" y="675" width="8" height="1" fill="#000"/>
<rect x="1006" y="675" width="8" height="1" fill="#000"/>
<rect x="120" y="653" width="17" height="1" fill="#000"/>
<rect x="997" y="653" width="17" height="1" fill="#000"/>
<rect x="120" y="631" width="8" height="1" fill="#000"/>
<rect x="1006" y="631" width="8" height="1" fill="#000"/>
<rect x="120" y="609" width="8" height="2" fill="#000"/>
<rect x="1006" y="609" width="8" height="2" fill="#000"/>
<rect x="120" y="587" width="8" height="2" fill="#000"/>
<rect x="1006" y="587" width="8" height="2" fill="#000"/>
<rect x="120" y="566" width="8" height="1" fill="#000"/>
<rect x="1006" y="566" width="8" height="1" fill="#000"/>
<rect x="120" y="544" width="17" height="1" fill="#000"/>
<rect x="997" y="544" width="17" height="1" fill="#000"/>
<rect x="120" y="522" width="8" height="2" fill="#000"/>
<rect x="1006" y="522" width="8" height="2" fill="#000"/>
<rect x="120" y="500" width="8" height="2" fill="#000"/>
<rect x="1006" y="500" width="8" height="2" fill="#000"/>
<rect x="120" y="479" width="8" height="1" fill="#000"/>
<rect x="1006" y="479" width="8" height="1" fill="#000"/>
<rect x="120" y="457" width="8" height="1" fill="#000"/>
<rect x="1006" y="457" width="8" height="1" fill="#000"/>
<rect x="120" y="435" width="17" height="2" fill="#000"/>
<rect x="997" y="435" width="17" height="2" fill="#000"/>
<rect x="120" y="413" width="8" height="2" fill="#000"/>
<rect x="1006" y="413" width="8" height="2" fill="#000"/>
<rect x="120" y="392" width="8" height="1" fill="#000"/>
<rect x="1006" y="392" width="8" height="1" fill="#000"/>
<rect x="120" y="370" width="8" height="1" fill="#000"/>
<rect x="1006" y="370" width="8" height="1" fill="#000"/>
<rect x="120" y="348" width="8" height="2" fill="#000"/>
<rect x="1006" y="348" width="8" height="2" fill="#000"/>
<rect x="120" y="326" width="17" height="2" fill="#000"/>
<rect x="997" y="326" width="17" height="2" fill="#000"/>
<rect x="120" y="305" width="8" height="1" fill="#000"/>
<rect x="1006" y="305" width="8" height="1" fill="#000"/>
<rect x="120" y="283" width="8" height="1" fill="#000"/>
<rect x="1006" y="283" width="8" height="1" fill="#000"/>
<rect x="120" y="261" width="8" height="2" fill="#000"/>
<rect x="1006" y="261" width="8" height="2" fill="#000"/>
<rect x="120" y="239" width="8" height="2" fill="#000"/>
<rect x="1006" y="239" width="8" height="2" fill="#000"/>
<rect x="120" y="218" width="17" height="1" fill="#000"/>
<rect x="997" y="218" width="17" height="1" fill="#000"/>
<rect x="120" y="196" width="8" height="1" fill="#000"/>
<rect x="1006" y="196" width="8" height="1" fill="#000"/>
<rect x="120" y="175" width="8" height="1" fill="#000"/>
<rect x="1006" y="175" width="8" height="1" fill="#000"/>
<rect x="120" y="152" width="8" height="2" fill="#000"/>
<rect x="1006" y="152" width="8" height="2" fill="#000"/>
<rect x="120" y="130" width="8" height="2" fill="#000"/>
<rect x="1006" y="130" width="8" height="2" fill="#000"/>
</g>
<text x="128" y="31.5" class="t" textLength="75.2" lengthAdjust="spacingAndGlyphs">Survey:</text>
<text x="212" y="31.5" class="ti" textLength="41.3" lengthAdjust="spacingAndGlyphs">sdss</text>
<text x="264.4" y="31.5" class="t" textLength="90.6" lengthAdjust="spacingAndGlyphs">Program:</text>
<text x="367.6" y="31.5" class="ti" textLength="63.5" lengthAdjust="spacingAndGlyphs">legacy</text>
<text x="442.2" y="31.5" class="t" textLength="73.8" lengthAdjust="spacingAndGlyphs">Target:</text>
<text x="524.6" y="31.5" class="ti" textLength="74" lengthAdjust="spacingAndGlyphs">GALAXY</text>
<text x="128" y="55" class="t" textLength="141.8" lengthAdjust="spacingAndGlyphs">RA=229.86736,</text>
<text x="284.4" y="55" class="t" textLength="142.9" lengthAdjust="spacingAndGlyphs">Dec=41.64720,</text>
<text x="442.2" y="55" class="t" textLength="115.1" lengthAdjust="spacingAndGlyphs">Plate=1678,</text>
<text x="573.2" y="55" class="t" textLength="106.3" lengthAdjust="spacingAndGlyphs">Fiber=257,</text>
<text x="692.2" y="55" class="t" textLength="109.5" lengthAdjust="spacingAndGlyphs">MJD=53433</text>
<text x="128" y="78.5" class="ti" textLength="199.9" lengthAdjust="spacingAndGlyphs">z=0.02359&#177;0.00001</text>
<text x="342.2" y="78.5" class="t" textLength="137.3" lengthAdjust="spacingAndGlyphs">Class=GALAXY</text>
<text x="490.6" y="78.5" class="t" textLength="134.4" lengthAdjust="spacingAndGlyphs">STARFORMING</text>
<text x="128" y="102" class="t" textLength="23.7" lengthAdjust="spacingAndGlyphs">No</text>
<text x="162.9" y="102" class="t" textLength="95.2" lengthAdjust="spacingAndGlyphs">warnings.</text>
<text x="127" y="163.5" class="lb" textLength="20.2" lengthAdjust="spacingAndGlyphs">OII</text>
<text x="141.8" y="395.6" class="lb" textLength="36.2" lengthAdjust="spacingAndGlyphs">NeIII</text>
<text x="189.1" y="401.7" class="lb" textLength="19.4" lengthAdjust="spacingAndGlyphs">H&#948;</text>
<text x="224" y="385.7" class="lb" textLength="21" lengthAdjust="spacingAndGlyphs">H&#947;</text>
<text x="240.6" y="425.4" class="lb" textLength="26.4" lengthAdjust="spacingAndGlyphs">OIII</text>
<text x="305.9" y="343.5" class="lb" textLength="21.3" lengthAdjust="spacingAndGlyphs">H&#946;</text>
<text x="336.7" y="148.7" class="lb" textLength="26.5" lengthAdjust="spacingAndGlyphs">OIII</text>
<text x="476.2" y="450.6" class="lb" textLength="26.3" lengthAdjust="spacingAndGlyphs">HeI</text>
<text x="551.3" y="475.7" class="lb" textLength="14.5" lengthAdjust="spacingAndGlyphs">OI</text>
<text x="590.9" y="216.5" class="lb" textLength="21.3" lengthAdjust="spacingAndGlyphs">H&#945;</text>
<text x="570" y="233" class="lb" textLength="21" lengthAdjust="spacingAndGlyphs">NII</text>
<text x="612.8" y="233" class="lb" textLength="21.3" lengthAdjust="spacingAndGlyphs">NII</text>
<text x="619.75" y="448.5" class="lb" textLength="19.55" lengthAdjust="spacingAndGlyphs">SII</text>
<text x="678" y="481.8" class="lb" textLength="34.3" lengthAdjust="spacingAndGlyphs">ArIII</text>
<text x="162.1" y="646.4" class="lb" textLength="23.9" lengthAdjust="spacingAndGlyphs">K H</text>
<text x="225.9" y="627.7" class="lb" textLength="10" lengthAdjust="spacingAndGlyphs">G</text>
<text x="364.5" y="612.5" class="lb" textLength="20.2" lengthAdjust="spacingAndGlyphs">Mg</text>
<text x="472.4" y="606.4" class="lb" textLength="39.5" lengthAdjust="spacingAndGlyphs">Na  D</text>
<text x="904" y="650.3" class="lb" textLength="29.8" lengthAdjust="spacingAndGlyphs">CaII</text>
<text x="131.9" y="737" class="ax" textLength="68" lengthAdjust="spacingAndGlyphs">4000</text>
<text x="291.9" y="737" class="ax" textLength="68" lengthAdjust="spacingAndGlyphs">5000</text>
<text x="451.9" y="737" class="ax" textLength="68" lengthAdjust="spacingAndGlyphs">6000</text>
<text x="611.9" y="737" class="ax" textLength="68" lengthAdjust="spacingAndGlyphs">7000</text>
<text x="771.9" y="737" class="ax" textLength="68" lengthAdjust="spacingAndGlyphs">8000</text>
<text x="931.9" y="737" class="ax" textLength="68" lengthAdjust="spacingAndGlyphs">9000</text>
<text x="75.2" y="229.1" class="ax" textLength="34.2" lengthAdjust="spacingAndGlyphs">20</text>
<text x="76" y="337.85" class="ax" textLength="33.4" lengthAdjust="spacingAndGlyphs">15</text>
<text x="76" y="446.6" class="ax" textLength="33.4" lengthAdjust="spacingAndGlyphs">10</text>
<text x="92" y="555.35" class="ax" textLength="17.4" lengthAdjust="spacingAndGlyphs">5</text>
<text x="91.6" y="664.1" class="ax" textLength="17.8" lengthAdjust="spacingAndGlyphs">0</text>
<text x="387.6" y="770.6" class="al" textLength="358" lengthAdjust="spacingAndGlyphs">Wavelength (Angstroms)</text>
<g transform="translate(51.8,596.5) rotate(-90)">
<text x="0.5" y="0" class="al" font-style="italic">f</text>
<text x="14.3" y="8" class="al" style="font-size:17px" textLength="12" lengthAdjust="spacingAndGlyphs">&#955;</text>
<text x="42" y="0" class="al" textLength="43.6" lengthAdjust="spacingAndGlyphs">(10</text>
<text x="89.3" y="-14.2" class="al" style="font-size:17.5px" textLength="34" lengthAdjust="spacingAndGlyphs">&#8722;17</text>
<text x="138.7" y="0" class="al" textLength="143.3" lengthAdjust="spacingAndGlyphs">erg/s/cm</text>
<text x="284.3" y="-13.4" class="al" style="font-size:17.5px" textLength="9" lengthAdjust="spacingAndGlyphs">2</text>
<text x="295" y="0" class="al" textLength="80.5" lengthAdjust="spacingAndGlyphs">/Ang)</text>
</g>
</svg>
</body></html>
